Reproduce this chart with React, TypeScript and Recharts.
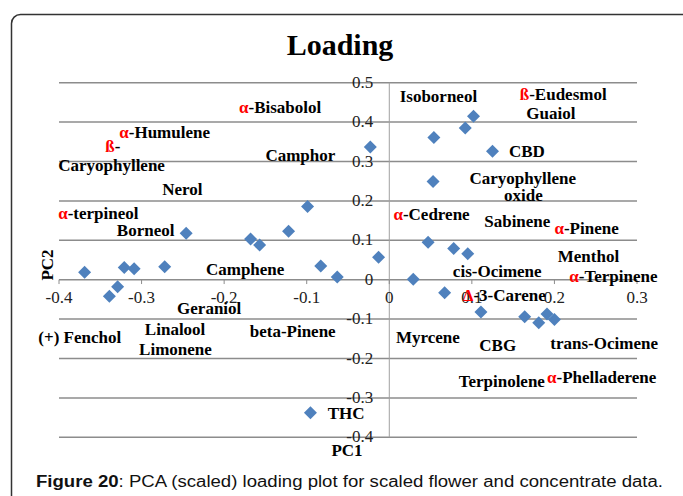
import { ScatterChart, Scatter, XAxis, YAxis, ReferenceLine, ReferenceDot } from "recharts";

// loadings
const pc1 = [
  0.102, 0.092, 0.054, -0.023, 0.125, 0.053, -0.099, -0.246, -0.168, -0.157, -0.122,
  -0.013, 0.047, 0.078, 0.095, -0.369, -0.321, -0.309, -0.272, -0.083, -0.063, 0.029,
  -0.329, -0.339, 0.067, 0.111, 0.164, 0.181, 0.191, 0.2, -0.0955,
];
const pc2 = [
  0.415, 0.385, 0.361, 0.337, 0.326, 0.249, 0.186, 0.118, 0.103, 0.088, 0.123,
  0.057, 0.095, 0.079, 0.066, 0.019, 0.031, 0.028, 0.033, 0.035, 0.007, 0.001,
  -0.018, -0.042, -0.033, -0.082, -0.094, -0.109, -0.087, -0.101, -0.338,
];

const xTicks = [-0.4, -0.3, -0.2, -0.1, 0, 0.1, 0.2, 0.3];
const xTickLabels = ["-0.4", "-0.3", "-0.2", "-0.1", "0", "0.1", "0.2", "0.3"];
const yTicks = [0.5, 0.4, 0.3, 0.2, 0.1, 0, -0.1, -0.2, -0.3, -0.4];
const yTickLabels = ["0.5", "0.4", "0.3", "0.2", "0.1", "0", "-0.1", "-0.2", "-0.3", "-0.4"];

// compound labels: red prefix + black text, anchored in data space (left edge, middle)
const labelPrefix = [
  "α", "α", "ß", "", "", "", "ß", "", "", "", "", "", "α", "", "", "α", "", "", "α",
  "", "Δ", "", "", "", "", "", "", "", "", "", "α", "",
];
const labelText = [
  "-Bisabolol", "-Humulene", "-", "Caryophyllene", "Camphor", "Isoborneol", "-Eudesmol",
  "Guaiol", "CBD", "Caryophyllene", "oxide", "Nerol", "-terpineol", "Borneol", "Sabinene",
  "-Cedrene", "Camphene", "Menthol", "-Pinene", "cis-Ocimene", "-3-Carene", "Geraniol",
  "(+) Fenchol", "Linalool", "Limonene", "beta-Pinene", "Myrcene", "CBG", "trans-Ocimene",
  "Terpinolene", "-Phelladerene", "THC",
];
const labelPc1 = [
  -0.182, -0.327, -0.344, -0.401, -0.15, 0.0126, 0.158, 0.166, 0.145, 0.097, 0.139,
  -0.275, -0.401, -0.33, 0.115, 0.005, -0.222, 0.204, 0.2, 0.077, 0.089, -0.257,
  -0.425, -0.296, -0.303, -0.169, 0.008, 0.109, 0.195, 0.084, 0.191, -0.0745,
];
const labelPc2 = [
  0.437, 0.374, 0.34, 0.291, 0.316, 0.466, 0.47, 0.422, 0.327, 0.259, 0.214,
  0.229, 0.168, 0.127, 0.148, 0.166, 0.027, 0.06, 0.13, 0.022, -0.038, -0.073,
  -0.145, -0.126, -0.175, -0.131, -0.145, -0.166, -0.162, -0.258, -0.247, -0.338,
];
const extraLabels = [{ prefix: "α", text: "-Terpinene", pc1: 0.218, pc2: 0.01 }];

const points = pc1.map((x, i) => ({ x, y: pc2[i] }));
const labels = labelText
  .map((text, i) => ({ prefix: labelPrefix[i], text, pc1: labelPc1[i], pc2: labelPc2[i] }))
  .concat(extraLabels);

const SERIF = '"Liberation Serif", "Times New Roman", serif';
const GRID = "#8c8c8c";

const Diamond = (props: any) => {
  const { cx, cy } = props;
  const s = 6.5;
  return (
    <polygon
      points={`${cx},${cy - s} ${cx + s},${cy} ${cx},${cy + s} ${cx - s},${cy}`}
      fill="#4f81bd"
    />
  );
};

export default function App() {
  return (
    <div style={{ position: "absolute", left: 0, top: 0, width: 683, height: 496, background: "#fff" }}>
      <ScatterChart width={683} height={496} margin={{ top: 82.7, right: 46, bottom: 58.7, left: 59 }}>
        <XAxis type="number" dataKey="x" domain={[-0.4, 0.3]} ticks={xTicks} hide />
        <YAxis type="number" dataKey="y" domain={[-0.4, 0.5]} ticks={yTicks} hide />
        {yTicks.map((t) => (
          <ReferenceLine key={`g${t}`} y={t} stroke={GRID} strokeWidth={1.5} />
        ))}
        <ReferenceLine x={0} stroke="#a0a0a0" strokeWidth={1} />
        {xTicks.map((t) => (
          <ReferenceLine
            key={`tm${t}`}
            segment={[{ x: t, y: 0 }, { x: t, y: -0.011 }]}
            stroke={GRID}
            strokeWidth={1}
          />
        ))}
        {xTicks.map((t, i) => (
          <ReferenceDot
            key={`xt${t}`}
            x={t}
            y={0}
            r={0}
            ifOverflow="visible"
            shape={(p: any) => (
              <text x={p.cx} y={p.cy + 23} textAnchor="middle" fontFamily={SERIF} fontSize={17} fill="#222">
                {xTickLabels[i]}
              </text>
            )}
          />
        ))}
        {yTicks.map((t, i) => (
          <ReferenceDot
            key={`yt${t}`}
            x={0}
            y={t}
            r={0}
            ifOverflow="visible"
            shape={(p: any) => (
              <text x={p.cx - 16} y={p.cy + 5} textAnchor="end" fontFamily={SERIF} fontSize={17} fill="#222">
                {yTickLabels[i]}
              </text>
            )}
          />
        ))}
        <Scatter data={points} shape={<Diamond />} isAnimationActive={false} />
        {labels.map((l, i) => (
          <ReferenceDot
            key={`l${i}`}
            x={l.pc1}
            y={l.pc2}
            r={0}
            ifOverflow="visible"
            shape={(p: any) => (
              <text x={p.cx} y={p.cy} dy="0.35em" fontFamily={SERIF} fontSize={17} fontWeight="bold" fill="#000">
                {l.prefix && <tspan fill="#ff0000">{l.prefix}</tspan>}
                <tspan>{l.text}</tspan>
              </text>
            )}
          />
        ))}
      </ScatterChart>
      <svg
        width={683}
        height={496}
        style={{ position: "absolute", left: 0, top: 0, pointerEvents: "none" }}
      >
        <rect x={11.5} y={14.5} width={720} height={520} rx={9} fill="none" stroke="#333" strokeWidth={1.5} />
        <text x={340} y={55} textAnchor="middle" fontFamily={SERIF} fontSize={30} fontWeight="bold">
          Loading
        </text>
        <text x={347} y={456} textAnchor="middle" fontFamily={SERIF} fontSize={17} fontWeight="bold">
          PC1
        </text>
        <text
          x={0}
          y={0}
          transform="translate(53 265) rotate(-90)"
          textAnchor="middle"
          fontFamily={SERIF}
          fontSize={17}
          fontWeight="bold"
        >
          PC2
        </text>
        <text
          x={36}
          y={487}
          textLength={627}
          lengthAdjust="spacingAndGlyphs"
          fontFamily='"Liberation Sans", Arial, sans-serif'
          fontSize={16}
          fill="#111"
        >
          <tspan fontWeight="bold">Figure 20</tspan>
          <tspan>: PCA (scaled) loading plot for scaled flower and concentrate data.</tspan>
        </text>
      </svg>
    </div>
  );
}
